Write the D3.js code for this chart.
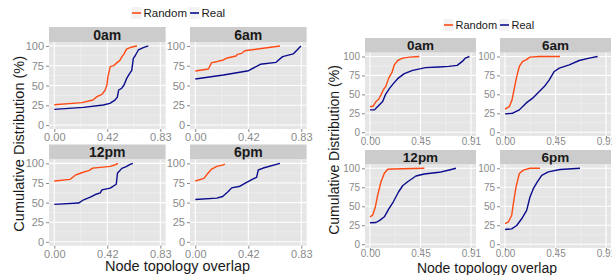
<!DOCTYPE html>
<html><head><meta charset="utf-8">
<script src="https://cdn.jsdelivr.net/npm/d3@7"></script>
<style>body{margin:0;background:#fff}svg{display:block;font-family:"Liberation Sans",Arial,Helvetica,sans-serif}</style>
</head><body><svg id="c" width="612" height="275"></svg>
<script>
// ---------- data ----------
const panels = ["0am", "6am", "12pm", "6pm"];
const seriesNames = ["Random", "Real"];
const yTicks = [0, 25, 50, 75, 100];
const yLabels = ["0", "25", "50", "75", "100"];
const leftXTicks = [0, 0.415, 0.83];
const leftXLabels = ["0.00", "0.42", "0.83"];
const rightXTicks = [0, 0.455, 0.91];
const rightXLabels = ["0.00", "0.45", "0.91"];

// left figure: [node topology overlap, cumulative %]
const left0amRandom = [[0,25.7],[0.217,28.3],[0.303,31.6],[0.334,35.9],[0.373,38.8],[0.399,44.3],[0.412,50.6],[0.42,61.2],[0.438,73.8],[0.465,75.1],[0.491,78.9],[0.512,81.4],[0.53,86.5],[0.549,90.7],[0.564,95.7],[0.577,97],[0.608,98.7],[0.647,100]];
const left0amReal = [[0,19.8],[0.227,22.3],[0.383,25.3],[0.435,27.4],[0.475,31.6],[0.493,35],[0.504,44.3],[0.527,46.4],[0.546,50.6],[0.567,59],[0.588,64.6],[0.606,68.8],[0.619,84.4],[0.632,87.3],[0.658,94.9],[0.697,97.8],[0.736,100]];
const left6amRandom = [[0,68.4],[0.102,70.9],[0.128,78.9],[0.168,80.1],[0.22,82.3],[0.25,84.8],[0.319,87.3],[0.33,89.4],[0.363,90.7],[0.389,94],[0.428,94.9],[0.663,100]];
const left6amReal = [[0,58.2],[0.22,63.3],[0.417,68.7],[0.509,76.8],[0.632,79.3],[0.684,86.5],[0.767,89.9],[0.827,100]];
const left12pmRandom = [[0,77.5],[0.125,79.7],[0.164,85],[0.209,87.8],[0.274,91.1],[0.3,94],[0.36,95],[0.438,96.2],[0.478,98.3],[0.499,100]];
const left12pmReal = [[0,47.7],[0.19,49.4],[0.23,53.6],[0.282,57],[0.321,60.3],[0.36,62.4],[0.373,66.2],[0.438,68.4],[0.485,73.4],[0.495,87.8],[0.529,93.7],[0.563,95.8],[0.594,98.7],[0.615,100]];
const left6pmRandom = [[0,77.6],[0.068,81],[0.094,86.5],[0.128,92.8],[0.168,96.2],[0.214,97.9],[0.232,99.2]];
const left6pmReal = [[0,54],[0.168,55.7],[0.214,57.8],[0.258,64.1],[0.285,68.8],[0.35,70.9],[0.402,75.9],[0.454,80.2],[0.48,82.3],[0.493,91.6],[0.532,94.1],[0.663,100]];

// right figure
const right0amRandom = [[0,33.9],[0.024,33.9],[0.054,40.5],[0.078,43.5],[0.099,49.3],[0.12,56],[0.144,61.2],[0.168,71.4],[0.198,78.9],[0.219,89],[0.249,94.7],[0.294,97.9],[0.354,99.2],[0.444,100]];
const right0amReal = [[0,29.5],[0.04,29.5],[0.069,33.9],[0.114,40.5],[0.138,49.3],[0.174,57.6],[0.21,64.2],[0.249,70.7],[0.309,77.3],[0.384,81.7],[0.459,83.9],[0.5,85.3],[0.62,86.1],[0.71,86.9],[0.786,88.2],[0.832,93.5],[0.86,97.9],[0.896,100]];
const right6amRandom = [[0,30.4],[0.039,33.9],[0.063,42.7],[0.084,58.2],[0.105,73.5],[0.129,86.8],[0.159,93.4],[0.189,95.6],[0.225,99.2],[0.309,100],[0.495,100]];
const right6amReal = [[0,24.2],[0.069,25.1],[0.129,29.5],[0.189,38.4],[0.249,45],[0.309,53.7],[0.354,60.3],[0.399,69.2],[0.444,80.2],[0.489,84.7],[0.579,89],[0.669,94.7],[0.759,97.9],[0.835,100]];
const right12pmRandom = [[0,36.1],[0.024,38.3],[0.048,49.3],[0.069,64.7],[0.099,82.3],[0.129,93.4],[0.159,98.7],[0.204,99.1],[0.49,100]];
const right12pmReal = [[0,28.2],[0.054,28.6],[0.09,31.7],[0.129,36.1],[0.168,46.2],[0.21,55.9],[0.258,69.1],[0.294,77],[0.339,82.3],[0.414,89.8],[0.489,92.5],[0.624,94.7],[0.714,97.8],[0.775,100]];
const right6pmRandom = [[0,27.1],[0.03,29.3],[0.06,38.2],[0.075,53.6],[0.099,75.6],[0.129,93.2],[0.165,97.6],[0.225,100],[0.315,100]];
const right6pmReal = [[0,19.3],[0.06,20.2],[0.105,24.6],[0.15,33.5],[0.195,44.5],[0.225,62.2],[0.255,73.2],[0.291,82],[0.331,90.8],[0.39,95.2],[0.495,98.4],[0.676,100]];

// ---------- layout / style ----------
const colors = {Random: "#ff4a12", Real: "#0b0b8e"};
const svg = d3.select("#c");

const groups = [
  {
    xTicks: leftXTicks, xLabels: leftXLabels,
    series: [[left0amRandom, left0amReal],[left6amRandom, left6amReal],[left12pmRandom, left12pmReal],[left6pmRandom, left6pmReal]],
    cols: [[49, 165.6], [190, 306.6]],
    rows: [{head: 27, top: 42, bottom: 129}, {head: 144.5, top: 159.5, bottom: 245.7}],
    tickFont: 11, stripFont: 14, xLabOff: 8,
    legend: {y: 13, keys: [136.5, 194.5], font: 11.5},
    yTitle: {x: 19, y: 143.8, size: 14.5},
    xTitle: {x: 177.5, y: 265.5, size: 14.5}
  },
  {
    xTicks: rightXTicks, xLabels: rightXLabels,
    series: [[right0amRandom, right0amReal],[right6amRandom, right6amReal],[right12pmRandom, right12pmReal],[right6pmRandom, right6pmReal]],
    cols: [[365, 476], [500, 611]],
    rows: [{head: 38, top: 52.7, bottom: 136}, {head: 150, top: 164.5, bottom: 248}],
    tickFont: 10, stripFont: 13.5, xLabOff: 5.8,
    legend: {y: 25, keys: [448.5, 504.5], font: 11},
    yTitle: {x: 333.5, y: 150, size: 14},
    xTitle: {x: 487, y: 268, size: 14}
  }
];

groups.forEach(g => {
  const gg = svg.append("g");
  const xMax = d3.max(g.xTicks);
  panels.forEach((name, i) => {
    const col = g.cols[i % 2], row = g.rows[Math.floor(i / 2)];
    const x = d3.scaleLinear().domain([-0.05 * xMax, 1.05 * xMax]).range(col);
    const y = d3.scaleLinear().domain([-5, 105]).range([row.bottom, row.top]);
    const p = gg.append("g");
    // strip
    p.append("rect").attr("x", col[0]).attr("y", row.head).attr("width", col[1] - col[0]).attr("height", row.top - row.head).attr("fill", "#cccccc");
    p.append("text").attr("x", (col[0] + col[1]) / 2).attr("y", (row.head + row.top) / 2).attr("dy", "0.36em")
      .attr("text-anchor", "middle").attr("font-weight", "bold").attr("font-size", g.stripFont).attr("fill", "#1a1a1a").text(name);
    // panel background
    p.append("rect").attr("x", col[0]).attr("y", row.top).attr("width", col[1] - col[0]).attr("height", row.bottom - row.top).attr("fill", "#e5e5e5");
    // minor grid
    const yMinor = d3.pairs(yTicks).map(([a, b]) => (a + b) / 2);
    const xMinor = d3.pairs(g.xTicks).map(([a, b]) => (a + b) / 2);
    p.selectAll(null).data(yMinor).join("line").attr("x1", col[0]).attr("x2", col[1]).attr("y1", d => y(d)).attr("y2", d => y(d)).attr("stroke", "#f2f2f2").attr("stroke-width", 0.6);
    p.selectAll(null).data(xMinor).join("line").attr("y1", row.top).attr("y2", row.bottom).attr("x1", d => x(d)).attr("x2", d => x(d)).attr("stroke", "#f2f2f2").attr("stroke-width", 0.6);
    // major grid
    p.selectAll(null).data(yTicks).join("line").attr("x1", col[0]).attr("x2", col[1]).attr("y1", d => y(d)).attr("y2", d => y(d)).attr("stroke", "#ffffff").attr("stroke-width", 1.1);
    p.selectAll(null).data(g.xTicks).join("line").attr("y1", row.top).attr("y2", row.bottom).attr("x1", d => x(d)).attr("x2", d => x(d)).attr("stroke", "#ffffff").attr("stroke-width", 1.1);
    // axes
    const yAxis = d3.axisLeft(y).tickValues(yTicks).tickFormat((d, k) => yLabels[k]).tickSize(3).tickPadding(2);
    const ya = p.append("g").attr("transform", `translate(${col[0]},0)`).call(yAxis);
    const xAxis = d3.axisBottom(x).tickValues(g.xTicks).tickFormat((d, k) => g.xLabels[k]).tickSize(3).tickPadding(1);
    const xa = p.append("g").attr("transform", `translate(0,${row.bottom})`).call(xAxis);
    [ya, xa].forEach(a => {
      a.select(".domain").remove();
      a.selectAll(".tick line").attr("stroke", "#8a8a8a");
      a.selectAll(".tick text").attr("fill", "#8a8a8a").attr("font-size", g.tickFont).attr("font-family", null);
    });
    xa.selectAll(".tick text").attr("dy", null).attr("y", g.xLabOff).attr("dominant-baseline", "central");
    // lines
    const line = d3.line().x(d => x(d[0])).y(d => y(d[1]));
    g.series[i].forEach((data, s) => {
      p.append("path").datum(data).attr("d", line).attr("fill", "none")
        .attr("stroke", colors[seriesNames[s]]).attr("stroke-width", 1.4).attr("stroke-linejoin", "round");
    });
  });
  // legend
  seriesNames.forEach((s, k) => {
    const cx = g.legend.keys[k];
    gg.append("rect").attr("x", cx - 5).attr("y", g.legend.y - 6).attr("width", 10).attr("height", 12).attr("fill", "#f2f2f2");
    gg.append("line").attr("x1", cx - 4.5).attr("x2", cx + 4.5).attr("y1", g.legend.y).attr("y2", g.legend.y).attr("stroke", colors[s]).attr("stroke-width", 1.6);
    gg.append("text").attr("x", cx + 7).attr("y", g.legend.y).attr("dy", "0.36em").attr("font-size", g.legend.font).attr("fill", "#1a1a1a").text(s);
  });
  // titles
  gg.append("text").attr("transform", `translate(${g.yTitle.x},${g.yTitle.y}) rotate(-90)`).attr("text-anchor", "middle").attr("dy", "0.36em")
    .attr("font-size", g.yTitle.size).attr("fill", "#1a1a1a").text("Cumulative Distribution (%)");
  gg.append("text").attr("x", g.xTitle.x).attr("y", g.xTitle.y).attr("text-anchor", "middle").attr("dy", "0.36em")
    .attr("font-size", g.xTitle.size).attr("fill", "#1a1a1a").text("Node topology overlap");
});
</script></body></html>
